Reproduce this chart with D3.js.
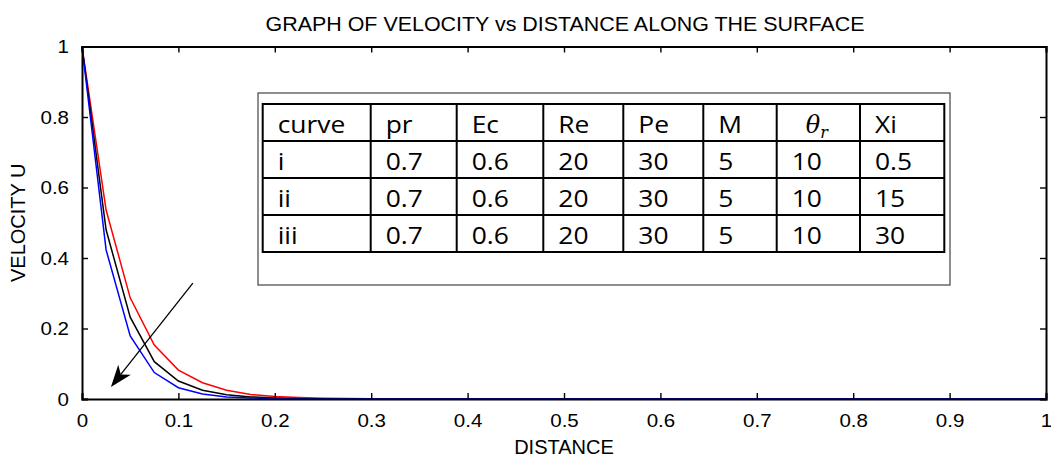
<!DOCTYPE html>
<html>
<head>
<meta charset="utf-8">
<script src="https://cdn.jsdelivr.net/npm/d3@7"></script>
<style>
  body { margin: 0; background: #fff; }
  svg { display: block; }
</style>
</head>
<body>
<div id="chart"></div>
<script>

// data
const distance = [0, 0.025, 0.05, 0.075, 0.1, 0.125, 0.15, 0.175, 0.2, 0.225, 0.25, 0.3, 1];
const curveI   = [1, 0.536, 0.287, 0.153, 0.082, 0.046, 0.025, 0.013, 0.007, 0.004, 0.002, 0.001, 0];
const curveII  = [1, 0.480, 0.232, 0.106, 0.051, 0.025, 0.012, 0.006, 0.003, 0.001, 0.001, 0, 0];
const curveIII = [1, 0.423, 0.179, 0.075, 0.032, 0.014, 0.006, 0.003, 0.001, 0, 0, 0, 0];

const xTicks = [0, 0.1, 0.2, 0.3, 0.4, 0.5, 0.6, 0.7, 0.8, 0.9, 1];
const yTicks = [0, 0.2, 0.4, 0.6, 0.8, 1];

// parameter table
const tableHeader = ["curve", "pr", "Ec", "Re", "Pe", "M", "θr", "Xi"];
const rowI   = ["i", "0.7", "0.6", "20", "30", "5", "10", "0.5"];
const rowII  = ["ii", "0.7", "0.6", "20", "30", "5", "10", "15"];
const rowIII = ["iii", "0.7", "0.6", "20", "30", "5", "10", "30"];

// arrow (start, tip) in data units
const arrowFrom = [0.115, 0.329];
const arrowTo = [0.03, 0.034];

const width = 1051, height = 458;
const mLeft = 82, mRight = 1046, mTop = 46.5, mBottom = 399;

const svg = d3.select("#chart").append("svg")
	.attr("width", width)
	.attr("height", height);

const sx = d3.scaleLinear().domain([0, 1]).range([mLeft, mRight]);
const sy = d3.scaleLinear().domain([0, 1]).range([mBottom, mTop]);

const axisFont = "'Liberation Sans', Arial, sans-serif";

// widen a text a little, the picture's labels are drawn wide
function stretch(sel, k) {
	sel.each(function() {
		const w = this.getComputedTextLength();
		if (w > 0) d3.select(this).attr("textLength", w * k).attr("lengthAdjust", "spacingAndGlyphs");
	});
}

// curves
const line = d3.line()
	.x((d, i) => sx(distance[i]))
	.y(d => sy(d));

const series = [
	{values: curveI, color: "#ff0000"},
	{values: curveII, color: "#000000"},
	{values: curveIII, color: "#0000ff"}
];

svg.append("g")
	.selectAll("path")
	.data(series)
	.enter()
	.append("path")
	.attr("d", d => line(d.values))
	.attr("fill", "none")
	.attr("stroke", d => d.color)
	.attr("stroke-width", 1.5);

// axes, matlab style: ticks inward, box all round
const tickLen = 6;
const xAxis = d3.axisBottom(sx).tickValues(xTicks).tickSize(-tickLen).tickPadding(12)
	.tickFormat(d => d3.format("~g")(d));
const yAxis = d3.axisLeft(sy).tickValues(yTicks).tickSize(-tickLen).tickPadding(13)
	.tickFormat(d => d3.format("~g")(d));

svg.append("g")
	.attr("transform", `translate(0,${mBottom})`)
	.call(xAxis)
	.call(g => g.selectAll("text").attr("font-size", 19).attr("font-family", axisFont).attr("fill", "#000")
		.attr("dy", null).attr("y", 27.5));

svg.append("g")
	.attr("transform", `translate(${mLeft},0)`)
	.call(yAxis)
	.call(g => g.selectAll("text").attr("font-size", 19).attr("font-family", axisFont).attr("fill", "#000"));

svg.append("g")
	.attr("transform", `translate(0,${mTop})`)
	.call(d3.axisTop(sx).tickValues(xTicks).tickSize(-tickLen).tickFormat(""));

svg.append("g")
	.attr("transform", `translate(${mRight},0)`)
	.call(d3.axisRight(sy).tickValues(yTicks).tickSize(-tickLen).tickFormat(""));

svg.selectAll(".domain").attr("stroke", "#000").attr("stroke-width", 2);
svg.selectAll(".tick line").attr("stroke", "#000").attr("stroke-width", 1.4);
stretch(svg.selectAll(".tick text"), 1.08);

// titles
svg.append("text")
	.attr("x", (mLeft + mRight) / 2 + 1)
	.attr("y", 31)
	.attr("text-anchor", "middle")
	.attr("font-family", axisFont)
	.attr("font-size", 20)
	.attr("textLength", 599)
	.attr("lengthAdjust", "spacingAndGlyphs")
	.text("GRAPH OF VELOCITY vs DISTANCE ALONG THE SURFACE");

svg.append("text")
	.attr("x", (mLeft + mRight) / 2)
	.attr("y", 454)
	.attr("text-anchor", "middle")
	.attr("font-family", axisFont)
	.attr("font-size", 20)
	.text("DISTANCE");

svg.append("text")
	.attr("transform", `translate(25,${(mTop + mBottom) / 2}) rotate(-90)`)
	.attr("text-anchor", "middle")
	.attr("font-family", axisFont)
	.attr("font-size", 20)
	.text("VELOCITY U");

// arrow
const ax0 = sx(arrowFrom[0]), ay0 = sy(arrowFrom[1]);
const ax1 = sx(arrowTo[0]), ay1 = sy(arrowTo[1]);
const ang = Math.atan2(ay1 - ay0, ax1 - ax0);
const headLen = 22, headHalf = 8, notch = 6;
const back = (l, o) => [ax1 - l * Math.cos(ang) - o * Math.sin(ang), ay1 - l * Math.sin(ang) + o * Math.cos(ang)];

svg.append("line")
	.attr("x1", ax0).attr("y1", ay0)
	.attr("x2", back(headLen - notch, 0)[0]).attr("y2", back(headLen - notch, 0)[1])
	.attr("stroke", "#000").attr("stroke-width", 1.3);

svg.append("path")
	.attr("d", d3.line()([[ax1, ay1], back(headLen, headHalf), back(headLen - notch, 0), back(headLen, -headHalf)]) + "Z")
	.attr("fill", "#000");

// parameter table inset
const box = {x: 258, y: 93, w: 692, h: 192};
const colWidths = [108, 86, 86.6, 80, 80, 73.4, 83.3, 84.3];
const tableX = 262.7, tableY = 104, rowH = 37;
const tableFont = "'Open Sans', 'Noto Sans', sans-serif";

svg.append("rect")
	.attr("x", box.x).attr("y", box.y)
	.attr("width", box.w).attr("height", box.h)
	.attr("fill", "#fff")
	.attr("stroke", "#444")
	.attr("stroke-width", 1.2);

const rows = [tableHeader, rowI, rowII, rowIII];
const colX = d3.cumsum([0, ...colWidths]).map(v => tableX + v);
const tableW = d3.sum(colWidths);

const ry = d3.scaleBand()
	.domain(d3.range(rows.length))
	.range([tableY, tableY + rows.length * rowH]);

const table = svg.append("g");

table.append("rect")
	.attr("x", tableX).attr("y", tableY)
	.attr("width", tableW).attr("height", rows.length * rowH)
	.attr("fill", "none").attr("stroke", "#000").attr("stroke-width", 2);

table.selectAll(".hline")
	.data(d3.range(1, rows.length))
	.enter().append("line")
	.attr("x1", tableX).attr("x2", tableX + tableW)
	.attr("y1", d => ry(d)).attr("y2", d => ry(d))
	.attr("stroke", "#000").attr("stroke-width", 2);

table.selectAll(".vline")
	.data(colX.slice(1, -1))
	.enter().append("line")
	.attr("x1", d => d).attr("x2", d => d)
	.attr("y1", tableY).attr("y2", tableY + rows.length * rowH)
	.attr("stroke", "#000").attr("stroke-width", 2);

rows.forEach((row, ri) => {
	row.forEach((cell, ci) => {
		const t = table.append("text")
			.attr("x", colX[ci] + 15)
			.attr("y", ry(ri) + 28.5)
			.attr("font-family", tableFont)
			.attr("font-size", 24)
			.attr("fill", "#000");
		if (cell === "θr") {
			t.attr("x", colX[ci] + 29).attr("font-family", "'DejaVu Serif', serif").attr("font-style", "italic");
			t.append("tspan").text("θ");
			t.append("tspan").attr("dy", 5).attr("font-size", 16).text("r");
		} else {
			t.text(cell);
			stretch(t, 1.1);
		}
	});
});

</script>
</body>
</html>
